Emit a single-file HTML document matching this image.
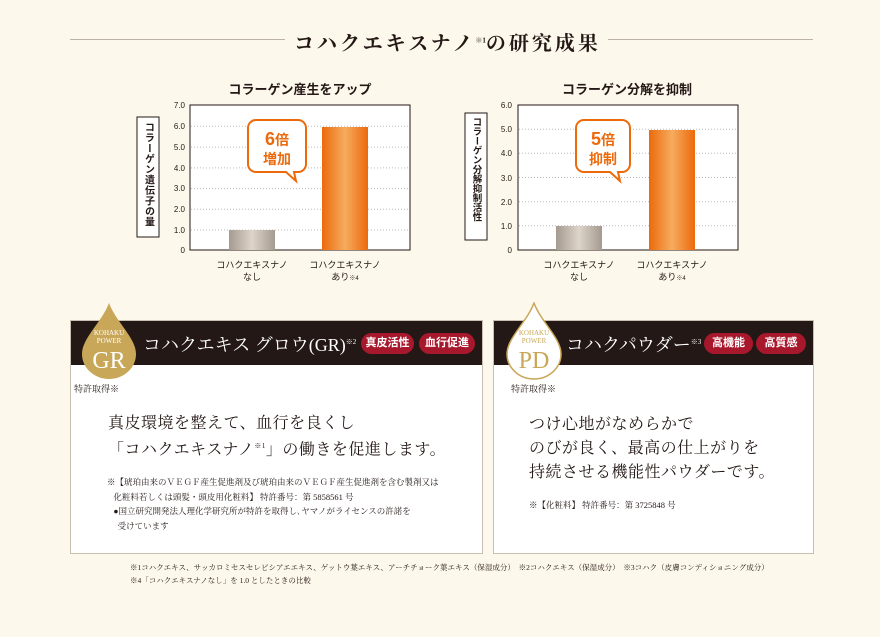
<!DOCTYPE html>
<html><head><meta charset="utf-8"><style>
*{margin:0;padding:0;box-sizing:border-box}
body{width:880px;height:637px;background:#fdf8ec;font-family:"Liberation Serif","Noto Serif CJK SC",serif;position:relative;overflow:hidden;color:#231815}
.a{position:absolute}
.panel{position:absolute;background:#fff;border:1px solid #c9bfb0}
.hdr{position:absolute;left:0;top:0;right:0;height:44px;background:#231815}
.tag{position:absolute;top:12px;height:21px;border-radius:11px;background:#a8182c;color:#fff;font-size:11px;line-height:21px;text-align:center;font-family:"Liberation Sans","Noto Sans CJK JP",sans-serif;font-weight:bold}
</style></head><body>
<div class="a" style="left:70px;top:39px;width:215px;height:1px;background:#bdb3a5"></div>
<div class="a" style="left:608px;top:39px;width:205px;height:1px;background:#bdb3a5"></div>
<div class="a" style="left:294px;top:27px;font-size:20px;font-weight:bold;letter-spacing:3px;white-space:nowrap">コハクエキスナノ<sup style="font-size:7px;letter-spacing:0">※1</sup>の研究成果</div>

<svg class="a" style="left:0;top:0" width="880" height="300" font-family="Liberation Sans,Noto Sans CJK JP,sans-serif">
<defs>
<linearGradient id="g" x1="0" x2="1"><stop offset="0" stop-color="#a59a8f"/><stop offset=".5" stop-color="#ddd4ca"/><stop offset="1" stop-color="#a59a8f"/></linearGradient>
<linearGradient id="o" x1="0" x2="1"><stop offset="0" stop-color="#ec6a0c"/><stop offset=".5" stop-color="#f6ab5e"/><stop offset="1" stop-color="#ec6a0c"/></linearGradient>
</defs>
<text x="300" y="94" text-anchor="middle" font-size="13" font-weight="bold" fill="#231815">コラーゲン産生をアップ</text>
<rect x="190" y="105" width="220" height="145" fill="#fff" stroke="#231815" stroke-width="1"/>
<g stroke="#bbb" stroke-dasharray="1,2">
<line x1="191" x2="409" y1="126.3" y2="126.3"/><line x1="191" x2="409" y1="147.1" y2="147.1"/><line x1="191" x2="409" y1="167.9" y2="167.9"/><line x1="191" x2="409" y1="188.6" y2="188.6"/><line x1="191" x2="409" y1="209.3" y2="209.3"/><line x1="191" x2="409" y1="230" y2="230"/></g>
<g font-size="8" fill="#231815" text-anchor="end"><text x="185" y="108">7.0</text><text x="185" y="129">6.0</text><text x="185" y="150">5.0</text><text x="185" y="171">4.0</text><text x="185" y="191">3.0</text><text x="185" y="212">2.0</text><text x="185" y="233">1.0</text><text x="185" y="253">0</text></g>
<rect x="229" y="230" width="46" height="20" fill="url(#g)"/>
<rect x="322" y="127" width="46" height="123" fill="url(#o)"/>
<path d="M256 120 h42 a8 8 0 0 1 8 8 v36 a8 8 0 0 1 -8 8 h-4 l2 9 l-10 -9 h-30 a8 8 0 0 1 -8 -8 v-36 a8 8 0 0 1 8 -8z" fill="#fff" stroke="#ec6a0c" stroke-width="2"/>
<text x="277" y="145" text-anchor="middle" font-size="18" font-weight="bold" fill="#ec6a0c">6<tspan font-size="14">倍</tspan></text>
<text x="277" y="164" text-anchor="middle" font-size="14" font-weight="bold" fill="#ec6a0c">増加</text>
<rect x="137" y="117" width="22" height="120" fill="#fff" stroke="#231815"/>
<text x="148" y="122" font-size="10" font-weight="bold" writing-mode="tb" fill="#231815" letter-spacing="0.5">コラーゲン遺伝子の量</text>
<g font-size="9" fill="#231815" text-anchor="middle"><text x="252" y="268">コハクエキスナノ</text><text x="252" y="280">なし</text><text x="345" y="268">コハクエキスナノ</text><text x="345" y="280">あり<tspan font-size="6">※4</tspan></text></g>

<text x="627" y="94" text-anchor="middle" font-size="13" font-weight="bold" fill="#231815">コラーゲン分解を抑制</text>
<rect x="518" y="105" width="220" height="145" fill="#fff" stroke="#231815"/>
<g stroke="#bbb" stroke-dasharray="1,2">
<line x1="519" x2="737" y1="129.2" y2="129.2"/><line x1="519" x2="737" y1="153.3" y2="153.3"/><line x1="519" x2="737" y1="177.5" y2="177.5"/><line x1="519" x2="737" y1="201.7" y2="201.7"/><line x1="519" x2="737" y1="225.8" y2="225.8"/></g>
<g font-size="8" fill="#231815" text-anchor="end"><text x="512" y="108">6.0</text><text x="512" y="132">5.0</text><text x="512" y="156">4.0</text><text x="512" y="181">3.0</text><text x="512" y="205">2.0</text><text x="512" y="229">1.0</text><text x="512" y="253">0</text></g>
<rect x="556" y="226" width="46" height="24" fill="url(#g)"/>
<rect x="649" y="130" width="46" height="120" fill="url(#o)"/>
<path d="M584 120 h38 a8 8 0 0 1 8 8 v36 a8 8 0 0 1 -8 8 h-4 l2 9 l-10 -9 h-26 a8 8 0 0 1 -8 -8 v-36 a8 8 0 0 1 8 -8z" fill="#fff" stroke="#ec6a0c" stroke-width="2"/>
<text x="603" y="145" text-anchor="middle" font-size="18" font-weight="bold" fill="#ec6a0c">5<tspan font-size="14">倍</tspan></text>
<text x="603" y="164" text-anchor="middle" font-size="14" font-weight="bold" fill="#ec6a0c">抑制</text>
<rect x="465" y="113" width="22" height="127" fill="#fff" stroke="#231815"/>
<text x="476" y="117" font-size="9.5" font-weight="bold" writing-mode="tb" fill="#231815">コラーゲン分解抑制活性</text>
<g font-size="9" fill="#231815" text-anchor="middle"><text x="579" y="268">コハクエキスナノ</text><text x="579" y="280">なし</text><text x="672" y="268">コハクエキスナノ</text><text x="672" y="280">あり<tspan font-size="6">※4</tspan></text></g>
</svg>

<div class="panel" style="left:70px;top:320px;width:413px;height:234px">
<div class="hdr"></div>
<div class="a" style="left:72px;top:10px;color:#fff;font-size:18px;white-space:nowrap">コハクエキス グロウ(GR)<sup style="font-size:7px">※2</sup></div>
<div class="tag" style="left:290px;width:53px">真皮活性</div>
<div class="tag" style="left:348px;width:56px">血行促進</div>
<div class="a" style="left:3px;top:61px;font-size:9px">特許取得※</div>
<div class="a" style="left:37px;top:92px;font-size:16px;line-height:22px;letter-spacing:0.5px">真皮環境を整えて、血行を良くし<br>「コハクエキスナノ<sup style="font-size:7px">※1</sup>」の働きを促進します。</div>
<div class="a" style="left:36px;top:154px;font-size:8.5px;line-height:14.5px">※【琥珀由来のＶＥＧＦ産生促進剤及び琥珀由来のＶＥＧＦ産生促進剤を含む製剤又は<br>&nbsp;&nbsp;&nbsp;化粧料若しくは頭髪・頭皮用化粧料】 特許番号：第 5858561 号<br>&nbsp;&nbsp;&nbsp;●国立研究開発法人理化学研究所が特許を取得し､ヤマノがライセンスの許諾を<br>&nbsp;&nbsp;&nbsp;&nbsp;&nbsp;受けています</div>
</div>
<svg class="a" style="left:78px;top:302px" width="62" height="78"><path d="M31 1 C38 20 58 36 58 52 A27 25 0 0 1 4 52 C4 36 24 20 31 1Z" fill="#c9a758"/>
<text x="31" y="33" text-anchor="middle" font-size="7" fill="#fff" font-family="Liberation Serif,serif">KOHAKU</text><text x="31" y="41" text-anchor="middle" font-size="7" fill="#fff" font-family="Liberation Serif,serif">POWER</text><text x="31" y="66" text-anchor="middle" font-size="24" fill="#fff" font-family="Liberation Serif,serif">GR</text></svg>

<div class="panel" style="left:493px;top:320px;width:321px;height:234px">
<div class="hdr"></div>
<div class="a" style="left:72px;top:10px;color:#fff;font-size:18px;white-space:nowrap">コハクパウダー<sup style="font-size:7px">※3</sup></div>
<div class="tag" style="left:210px;width:49px">高機能</div>
<div class="tag" style="left:262px;width:50px">高質感</div>
<div class="a" style="left:17px;top:61px;font-size:9px">特許取得※</div>
<div class="a" style="left:35px;top:92px;font-size:16px;line-height:24px;letter-spacing:0.5px">つけ心地がなめらかで<br>のびが良く、最高の仕上がりを<br>持続させる機能性パウダーです。</div>
<div class="a" style="left:35px;top:178px;font-size:8.5px">※【化粧料】 特許番号：第 3725848 号</div>
</div>
<svg class="a" style="left:503px;top:302px" width="62" height="78"><path d="M31 1 C38 20 58 36 58 52 A27 25 0 0 1 4 52 C4 36 24 20 31 1Z" fill="#fff" stroke="#c9a758" stroke-width="1.5"/>
<text x="31" y="33" text-anchor="middle" font-size="7" fill="#c9a758" font-family="Liberation Serif,serif">KOHAKU</text><text x="31" y="41" text-anchor="middle" font-size="7" fill="#c9a758" font-family="Liberation Serif,serif">POWER</text><text x="31" y="66" text-anchor="middle" font-size="24" fill="#c9a758" font-family="Liberation Serif,serif">PD</text></svg>

<div class="a" style="left:130px;top:561px;font-size:7.5px;line-height:13px;white-space:nowrap">※1コハクエキス、サッカロミセスセレビシアエエキス、ゲットウ葉エキス、アーチチョーク葉エキス（保湿成分）　※2コハクエキス（保湿成分）　※3コハク（皮膚コンディショニング成分）<br>※4「コハクエキスナノなし」を 1.0 としたときの比較</div>
</body></html>
